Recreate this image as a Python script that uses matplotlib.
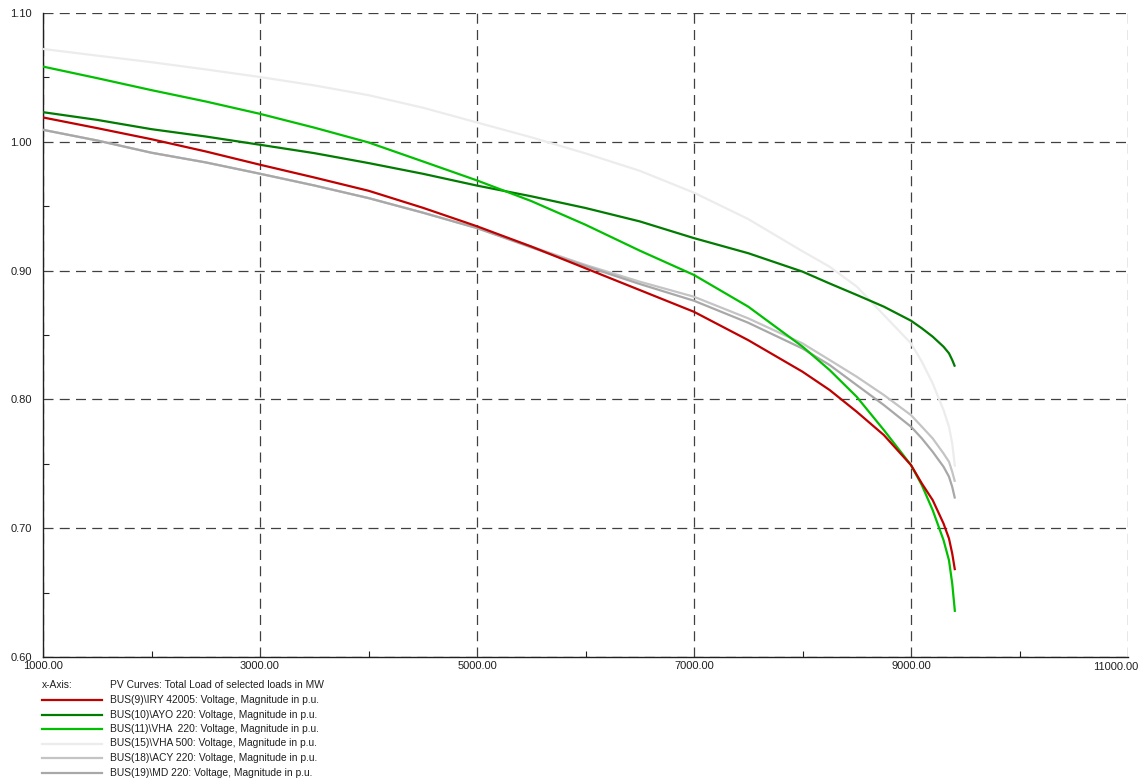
import matplotlib
matplotlib.use("Agg")
import matplotlib.pyplot as plt
from matplotlib.lines import Line2D
from matplotlib.ticker import MultipleLocator, FixedLocator

plt.rcParams['font.family'] = ['Liberation Sans', 'DejaVu Sans']

# ---- data (load in MW, voltage in p.u.) ----
load_mw = [1000, 1500, 2000, 2500, 3000, 3500, 4000, 4500, 5000, 5500, 6000, 6500, 7000,
           7500, 8000, 8250, 8500, 8750, 9000, 9100, 9200, 9300, 9350, 9380, 9405]

bus9_v  = [1.0189, 1.0106, 1.0020, 0.9925, 0.9822, 0.9723, 0.9620, 0.9488, 0.9344, 0.9187,
           0.9018, 0.8849, 0.8680, 0.8460, 0.8215, 0.8073, 0.7904, 0.7723, 0.7490, 0.7347,
           0.7218, 0.7036, 0.6920, 0.6803, 0.6674]
bus10_v = [1.0230, 1.0170, 1.0098, 1.0041, 0.9977, 0.9912, 0.9835, 0.9752, 0.9660, 0.9577,
           0.9486, 0.9382, 0.9252, 0.9135, 0.8992, 0.8900, 0.8811, 0.8720, 0.8611, 0.8552,
           0.8487, 0.8409, 0.8358, 0.8306, 0.8254]
bus11_v = [1.0584, 1.0494, 1.0401, 1.0313, 1.0217, 1.0110, 0.9995, 0.9848, 0.9700, 0.9540,
           0.9356, 0.9155, 0.8966, 0.8720, 0.8410, 0.8228, 0.8020, 0.7762, 0.7490, 0.7334,
           0.7140, 0.6907, 0.6751, 0.6570, 0.6350]
bus15_v = [1.0721, 1.0669, 1.0618, 1.0562, 1.0503, 1.0438, 1.0362, 1.0265, 1.0150, 1.0035,
           0.9910, 0.9775, 0.9605, 0.9400, 0.9150, 0.9030, 0.8876, 0.8655, 0.8435, 0.8293,
           0.8124, 0.7917, 0.7788, 0.7658, 0.7477]
bus18_v = [1.0093, 1.0010, 0.9915, 0.9840, 0.9752, 0.9661, 0.9563, 0.9450, 0.9330, 0.9187,
           0.9044, 0.8914, 0.8797, 0.8629, 0.8435, 0.8306, 0.8176, 0.8034, 0.7878, 0.7788,
           0.7697, 0.7580, 0.7516, 0.7438, 0.7360]
bus19_v = [1.0093, 1.0010, 0.9915, 0.9840, 0.9752, 0.9661, 0.9563, 0.9450, 0.9330, 0.9180,
           0.9035, 0.8896, 0.8766, 0.8595, 0.8395, 0.8267, 0.8111, 0.7956, 0.7788, 0.7697,
           0.7593, 0.7477, 0.7400, 0.7321, 0.7230]

series_labels = [
    "BUS(9)\\IRY 42005: Voltage, Magnitude in p.u.",
    "BUS(10)\\AYO 220: Voltage, Magnitude in p.u.",
    "BUS(11)\\VHA  220: Voltage, Magnitude in p.u.",
    "BUS(15)\\VHA 500: Voltage, Magnitude in p.u.",
    "BUS(18)\\ACY 220: Voltage, Magnitude in p.u.",
    "BUS(19)\\MD 220: Voltage, Magnitude in p.u.",
]
series_values = [bus9_v, bus10_v, bus11_v, bus15_v, bus18_v, bus19_v]
series_colors = ["#c00000", "#007c00", "#00c000", "#ececec", "#c4c4c4", "#a8a8a8"]

x_ticks = [1000, 3000, 5000, 7000, 9000, 11000]
x_ticklabels = ["1000.00", "3000.00", "5000.00", "7000.00", "9000.00", ""]
last_x_label = "11000.00"
y_ticks = [0.60, 0.70, 0.80, 0.90, 1.00, 1.10]
y_ticklabels = ["0.60", "0.70", "0.80", "0.90", "1.00", "1.10"]

x_axis_title = "PV Curves: Total Load of selected loads in MW"

# ---- figure ----
W, H = 1140, 780
fig = plt.figure(figsize=(W / 100, H / 100), dpi=100)
ax = fig.add_axes([43 / W, 1 - 657 / H, (1128 - 43) / W, (657 - 13) / H])

order = [3, 4, 5, 1, 2, 0]
for i in order:
    ax.plot(load_mw, series_values[i], color=series_colors[i], lw=1.6,
            solid_capstyle='butt', solid_joinstyle='round', zorder=3)

ax.set_xlim(1000, 11000)
ax.set_ylim(0.60, 1.10)
ax.xaxis.set_major_locator(FixedLocator(x_ticks))
ax.set_xticklabels(x_ticklabels)
ax.yaxis.set_major_locator(FixedLocator(y_ticks))
ax.set_yticklabels(y_ticklabels)
ax.xaxis.set_minor_locator(MultipleLocator(1000))
ax.yaxis.set_minor_locator(MultipleLocator(0.05))

ax.grid(True, which='major', color='#404040', lw=0.9, linestyle=(0, (8, 5)), zorder=1)
for s in ['top', 'right']:
    ax.spines[s].set_visible(False)
for s in ['left', 'bottom']:
    ax.spines[s].set_color('#202020')
    ax.spines[s].set_linewidth(1.0)

ax.tick_params(axis='both', which='major', direction='in', length=0, labelsize=8,
               colors='#202020')
ax.tick_params(axis='both', which='minor', direction='in', length=4, width=0.8,
               colors='#202020')
ax.tick_params(axis='x', which='major', pad=3)
ax.tick_params(axis='y', which='major', pad=8)

def fy(py):
    return 1 - py / H

fig.text(1138 / W, fy(667), last_x_label, fontsize=8, ha='right', va='center',
         color='#202020')

# ---- legend area below ----
fs_leg = 7.4
fig.text(42 / W, fy(685), "x-Axis:", fontsize=fs_leg, va='center', ha='left', color='#202020')
fig.text(110 / W, fy(685), x_axis_title, fontsize=fs_leg, va='center', ha='left', color='#202020')
rows_y = [700, 714.5, 729, 743.5, 758, 772.5]
for i, (lab, col) in enumerate(zip(series_labels, series_colors)):
    y = fy(rows_y[i])
    fig.add_artist(Line2D([42 / W, 102 / W], [y, y], color=col, lw=1.6,
                          transform=fig.transFigure))
    fig.text(110 / W, y, lab, fontsize=fs_leg, va='center', ha='left', color='#202020')

fig.savefig("out.png", dpi=100, facecolor='white')
